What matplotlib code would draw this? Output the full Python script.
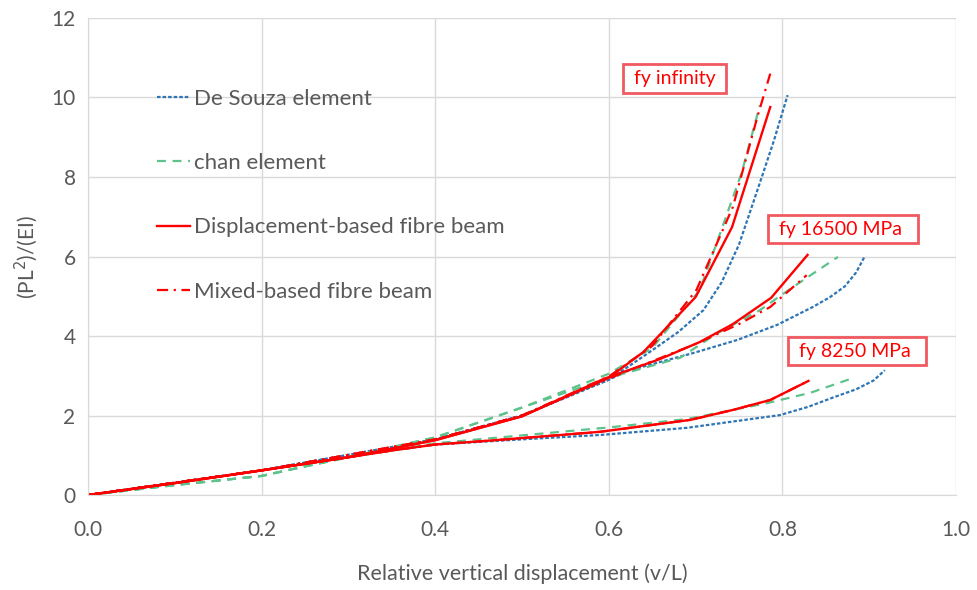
"""
Load-displacement curves for the fibre beam comparison.
"""
import matplotlib
matplotlib.use('Agg')
import matplotlib.pyplot as plt

# --- data ---
# Displacement-based fibre beam (red solid)
disp_inf_x = [0, 0.1, 0.2, 0.3, 0.4, 0.5, 0.6, 0.64, 0.70, 0.742, 0.786]
disp_inf_y = [0, 0.3, 0.62, 0.95, 1.38, 1.98, 2.95, 3.6, 4.98, 6.74, 9.76]
disp_16500_x = [0, 0.1, 0.2, 0.3, 0.4, 0.5, 0.594, 0.659, 0.705, 0.743, 0.787, 0.829]
disp_16500_y = [0, 0.3, 0.62, 0.95, 1.38, 1.98, 2.92, 3.42, 3.85, 4.3, 4.96, 6.04]
disp_8250_x = [0, 0.1, 0.2, 0.3, 0.35, 0.4, 0.47, 0.59, 0.694, 0.743, 0.786, 0.83]
disp_8250_y = [0, 0.3, 0.62, 0.95, 1.12, 1.27, 1.38, 1.59, 1.89, 2.14, 2.39, 2.87]

# Mixed-based fibre beam (red dash-dot)
mixed_inf_x = [0, 0.2, 0.4, 0.5, 0.6, 0.65, 0.701, 0.743, 0.771, 0.786]
mixed_inf_y = [0, 0.62, 1.4, 2.0, 2.98, 3.75, 5.16, 7.25, 9.5, 10.6]
mixed_16500_x = [0, 0.2, 0.4, 0.5, 0.6, 0.7, 0.75, 0.786, 0.828]
mixed_16500_y = [0, 0.62, 1.4, 2.0, 2.93, 3.8, 4.3, 4.73, 5.53]
mixed_8250_x = [0, 0.2, 0.35, 0.4, 0.47, 0.59, 0.694, 0.743, 0.786, 0.83]
mixed_8250_y = [0, 0.62, 1.12, 1.27, 1.38, 1.59, 1.89, 2.14, 2.39, 2.87]

# chan element (green dashed)
chan_inf_x = [0, 0.1, 0.2, 0.25, 0.3, 0.4, 0.5, 0.6, 0.65, 0.705, 0.753, 0.774]
chan_inf_y = [0, 0.25, 0.48, 0.72, 0.95, 1.45, 2.2, 3.05, 3.7, 5.16, 8.1, 9.8]
chan_16500_x = [0, 0.1, 0.2, 0.25, 0.3, 0.4, 0.5, 0.6, 0.682, 0.725, 0.774, 0.812, 0.864]
chan_16500_y = [0, 0.25, 0.48, 0.72, 0.95, 1.45, 2.2, 2.95, 3.45, 4.07, 4.65, 5.23, 5.99]
chan_8250_x = [0, 0.1, 0.2, 0.25, 0.3, 0.35, 0.4, 0.5, 0.6, 0.69, 0.782, 0.832, 0.881]
chan_8250_y = [0, 0.25, 0.48, 0.72, 0.95, 1.12, 1.3, 1.5, 1.7, 1.91, 2.31, 2.57, 2.94]

# De Souza element (blue dotted)
souza_inf_x = [0, 0.2, 0.4, 0.5, 0.6, 0.644, 0.68, 0.709, 0.73, 0.75, 0.774, 0.79, 0.806]
souza_inf_y = [0, 0.62, 1.4, 2.0, 2.9, 3.55, 4.1, 4.65, 5.35, 6.3, 7.85, 8.9, 10.06]
souza_16500_x = [0, 0.2, 0.4, 0.5, 0.6, 0.621, 0.697, 0.748, 0.794, 0.835, 0.855, 0.872, 0.885, 0.895]
souza_16500_y = [0, 0.62, 1.4, 2.0, 2.9, 3.12, 3.57, 3.9, 4.28, 4.73, 4.98, 5.25, 5.6, 6.01]
souza_8250_x = [0, 0.2, 0.35, 0.4, 0.5, 0.59, 0.69, 0.797, 0.83, 0.858, 0.885, 0.905, 0.918]
souza_8250_y = [0, 0.62, 1.12, 1.27, 1.4, 1.51, 1.69, 2.01, 2.22, 2.45, 2.66, 2.88, 3.14]

x_ticks = [0.0, 0.2, 0.4, 0.6, 0.8, 1.0]
y_ticks = [0, 2, 4, 6, 8, 10, 12]

# label text and left anchor (data coords)
annotations = [(" fy infinity ", 0.623, 10.47),
               (" fy 16500 MPa  ", 0.79, 6.69),
               (" fy 8250 MPa  ", 0.813, 3.62)]

# --- styles ---
BLUE = '#2E75B6'
GREEN = '#5EC28C'
RED = '#FF0000'
GREY_TXT = '#595959'
GRID = '#D9D9D9'

plt.rcParams['font.family'] = ['Lato', 'DejaVu Sans']

fig = plt.figure(figsize=(9.78, 5.9), dpi=100)
ax = fig.add_axes([0.09, 0.161, 0.8875, 0.8085])

souza_style = dict(color=BLUE, linestyle=(0, (1.6, 0.9)), linewidth=1.6)
chan_style = dict(color=GREEN, linestyle=(0, (4, 3)), linewidth=1.6)
disp_style = dict(color=RED, linestyle='-', linewidth=1.7)
mixed_style = dict(color=RED, linestyle=(0, (5, 2.5, 1, 2.5)), linewidth=1.6)

ax.plot(souza_inf_x, souza_inf_y, label='De Souza element', **souza_style)
ax.plot(souza_16500_x, souza_16500_y, **souza_style)
ax.plot(souza_8250_x, souza_8250_y, **souza_style)

ax.plot(chan_inf_x, chan_inf_y, label='chan element', **chan_style)
ax.plot(chan_16500_x, chan_16500_y, **chan_style)
ax.plot(chan_8250_x, chan_8250_y, **chan_style)

ax.plot(mixed_inf_x, mixed_inf_y, **mixed_style)
ax.plot(mixed_16500_x, mixed_16500_y, **mixed_style)
ax.plot(mixed_8250_x, mixed_8250_y, **mixed_style)

ax.plot(disp_inf_x, disp_inf_y, label='Displacement-based fibre beam', **disp_style)
ax.plot(disp_16500_x, disp_16500_y, **disp_style)
ax.plot(disp_8250_x, disp_8250_y, **disp_style)

# legend proxy for mixed so order matches
ax.plot([], [], label='Mixed-based fibre beam', **mixed_style)

for text, x, y in annotations:
    ax.text(x, y, text, color=RED, fontsize=14, ha='left', va='center',
            bbox=dict(boxstyle='square,pad=0.3', facecolor='white',
                      edgecolor='#F0595F', linewidth=2))

ax.set_xlim(0, 1.0)
ax.set_ylim(0, 12)
ax.set_xticks(x_ticks)
ax.set_xticklabels([f'{t:.1f}' for t in x_ticks])
ax.set_yticks(y_ticks)
ax.grid(True, color=GRID, linewidth=1)
ax.set_axisbelow(True)
ax.tick_params(length=0, labelsize=15, colors=GREY_TXT)
ax.tick_params(axis='x', pad=18)
ax.tick_params(axis='y', pad=9)

for side in ['top', 'right']:
    ax.spines[side].set_visible(False)
for side in ['left', 'bottom']:
    ax.spines[side].set_color(GRID)

ax.set_xlabel('Relative vertical displacement (v/L)', fontsize=15.5,
              color=GREY_TXT, labelpad=17)
ax.set_ylabel('(PL$^2$)/(EI)', fontsize=15, color=GREY_TXT, labelpad=8)

leg = ax.legend(loc='upper left', bbox_to_anchor=(0.079, 0.852), frameon=False,
                fontsize=16, labelspacing=2.0, handlelength=1.5,
                handletextpad=0.2, borderaxespad=0, borderpad=0,
                labelcolor=GREY_TXT)

plt.savefig('out.png', dpi=100)
plt.close()
